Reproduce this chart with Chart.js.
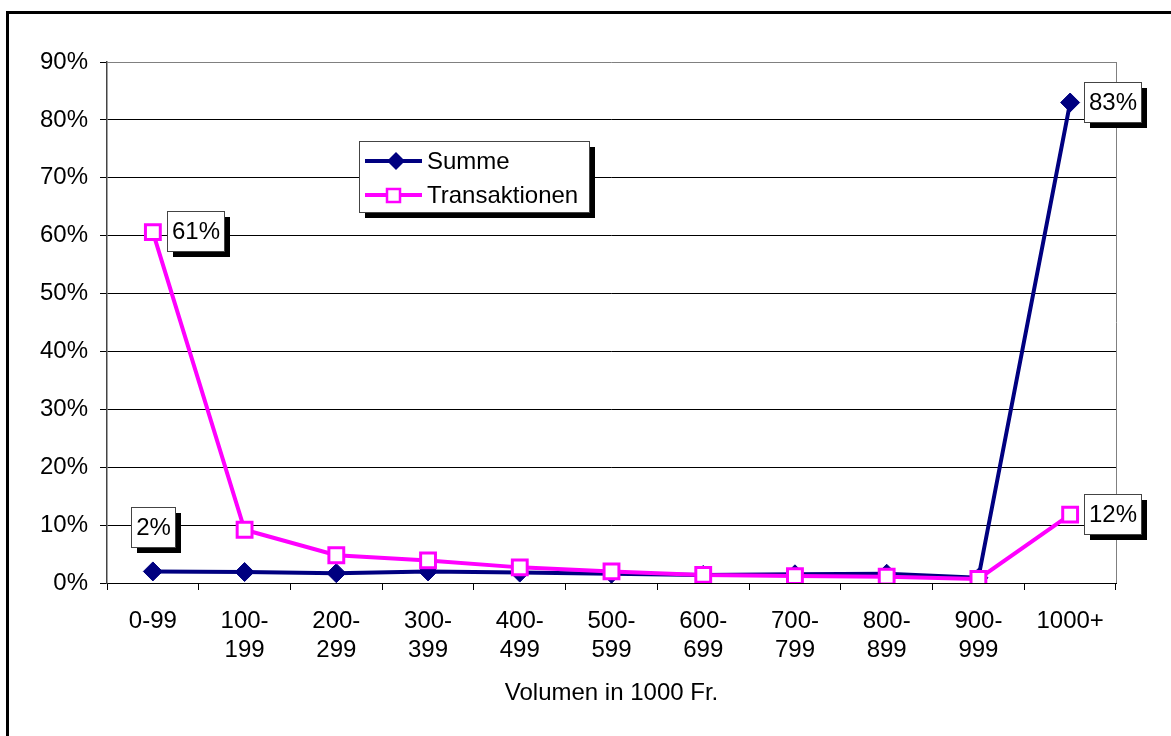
<!DOCTYPE html>
<html>
<head>
<meta charset="utf-8">
<script src="https://cdn.jsdelivr.net/npm/chart.js@4.4.0/dist/chart.umd.min.js"></script>
<style>
  html, body { margin: 0; padding: 0; background: #fff; overflow: hidden; }
  canvas { display: block; }
</style>
</head>
<body>
<canvas id="chart" width="1171" height="736"></canvas>
<script>
// Volumen-Klassen (in 1000 Fr.) und Anteile in %
const categories = [["0-99"], ["100-", "199"], ["200-", "299"], ["300-", "399"], ["400-", "499"],
  ["500-", "599"], ["600-", "699"], ["700-", "799"], ["800-", "899"], ["900-", "999"], ["1000+"]];
const summe = [2.0, 1.9, 1.7, 2.0, 1.8, 1.6, 1.4, 1.5, 1.6, 0.9, 83.0];
const transaktionen = [60.6, 9.2, 4.8, 3.9, 2.7, 2.0, 1.4, 1.2, 1.1, 0.7, 11.8];
const yMax = 90;
const yStep = 10;
const axisTitle = "Volumen in 1000 Fr.";
// which points get a value box: [dataset, index, side]
const valueLabels = [[1, 0, "right"], [0, 0, "above"], [0, 10, "right"], [1, 10, "right"]];

const FONT = "'Liberation Sans', Arial, sans-serif";
const NAVY = "#000080";
const PINK = "#FF00FF";

function diamond(ctx, x, y, r) {
  ctx.beginPath();
  ctx.moveTo(x, y - r); ctx.lineTo(x + r, y); ctx.lineTo(x, y + r); ctx.lineTo(x - r, y);
  ctx.closePath();
}

// box with a hard black shadow, like the old office charts
function shadowBox(ctx, x, y, w, h) {
  ctx.fillStyle = "#000";
  ctx.fillRect(x + 6, y + 6, w, h);
  ctx.fillStyle = "#fff";
  ctx.fillRect(x, y, w, h);
  ctx.strokeStyle = "#444";
  ctx.lineWidth = 1;
  ctx.strokeRect(x + 0.5, y + 0.5, w, h);
}

const framePlugin = {
  id: "frame",
  beforeDraw(chart) {
    const ctx = chart.ctx;
    ctx.save();
    ctx.fillStyle = "#fff";
    ctx.fillRect(0, 0, chart.width, chart.height);
    ctx.strokeStyle = "#000";
    ctx.lineWidth = 3;
    ctx.strokeRect(7.5, 12.5, 1400, 1000);
    ctx.restore();
  },
  beforeDatasetsDraw(chart) {
    const { ctx, chartArea: a } = chart;
    ctx.save();
    ctx.strokeStyle = "#808080";
    ctx.lineWidth = 1;
    ctx.beginPath();
    ctx.moveTo(a.right + 0.5, a.top);
    ctx.lineTo(a.right + 0.5, a.bottom);
    ctx.stroke();
    ctx.restore();
  }
};

const labelPlugin = {
  id: "valueBoxes",
  afterDatasetsDraw(chart) {
    const ctx = chart.ctx;
    ctx.save();
    ctx.font = "24px " + FONT;
    valueLabels.forEach(([ds, i, side]) => {
      const pt = chart.getDatasetMeta(ds).data[i];
      const txt = Math.round(chart.data.datasets[ds].data[i]) + "%";
      const w = Math.round(ctx.measureText(txt).width) + 9;
      const h = 40;
      let bx, by;
      if (side === "right") { bx = Math.round(pt.x + 14); by = Math.round(pt.y - h / 2 - 1); }
      else { bx = Math.round(pt.x - w / 2); by = Math.round(pt.y - 24 - h); }
      shadowBox(ctx, bx, by, w, h);
      ctx.fillStyle = "#000";
      ctx.textAlign = "center";
      ctx.textBaseline = "middle";
      ctx.fillText(txt, bx + w / 2 + 0.5, by + h / 2 + 1);
    });
    ctx.restore();
  },
  afterDraw(chart) {
    // legend box inside the plot
    const ctx = chart.ctx;
    const x = 359, y = 141, w = 230, h = 71;
    ctx.save();
    shadowBox(ctx, x, y, w, h);
    ctx.font = "24px " + FONT;
    ctx.textBaseline = "middle";
    ctx.textAlign = "left";
    chart.data.datasets.forEach((d, k) => {
      const ly = y + 20 + k * 34;
      ctx.strokeStyle = d.borderColor;
      ctx.lineWidth = 4;
      ctx.beginPath(); ctx.moveTo(x + 6, ly); ctx.lineTo(x + 63, ly); ctx.stroke();
      if (d.pointStyle === "rectRot") {
        diamond(ctx, x + 37, ly, 9);
        ctx.fillStyle = d.pointBackgroundColor; ctx.fill();
      } else {
        ctx.fillStyle = "#fff";
        ctx.fillRect(x + 28, ly - 6, 13, 13);
        ctx.strokeStyle = d.pointBorderColor; ctx.lineWidth = 2.5;
        ctx.strokeRect(x + 28, ly - 6, 13, 13);
      }
      ctx.fillStyle = "#000";
      ctx.fillText(d.label, x + 68, ly + 1);
    });
    ctx.restore();
  }
};

new Chart(document.getElementById("chart"), {
  type: "line",
  data: {
    labels: categories,
    datasets: [
      {
        label: "Summe", data: summe, order: 1,
        borderColor: NAVY, borderWidth: 4,
        pointStyle: "rectRot", pointRadius: 9.5,
        pointBackgroundColor: NAVY, pointBorderColor: NAVY, pointBorderWidth: 1,
        tension: 0, fill: false
      },
      {
        label: "Transaktionen", data: transaktionen, order: 0,
        borderColor: PINK, borderWidth: 4,
        pointStyle: "rect", pointRadius: 10.5,
        pointBackgroundColor: "#fff", pointBorderColor: PINK, pointBorderWidth: 3,
        tension: 0, fill: false
      }
    ]
  },
  options: {
    responsive: false,
    animation: false,
    events: [],
    layout: { padding: { top: 62, right: 55, left: 0, bottom: 0 } },
    plugins: { legend: { display: false }, tooltip: { enabled: false }, title: { display: false } },
    scales: {
      x: {
        offset: true,
        grid: { offset: true, drawOnChartArea: false, drawTicks: true, tickLength: 7, color: "#000", tickColor: "#000" },
        border: { color: "#000", width: 1 },
        ticks: { color: "#000", padding: 17, maxRotation: 0, autoSkip: false, font: { family: FONT, size: 24, lineHeight: 1.2 } },
        title: { display: true, text: axisTitle, color: "#000", font: { family: FONT, size: 24, lineHeight: 1.2 }, padding: { top: 0, bottom: 28 } },
        afterFit(scale) { scale.height = 153; }
      },
      y: {
        min: 0, max: yMax,
        grid: {
          color: c => (c.tick && c.tick.value === yMax ? "#808080" : "#000"),
          tickColor: "#000", tickLength: 7, lineWidth: 1
        },
        border: { color: "#444", width: 1.5 },
        ticks: { stepSize: yStep, color: "#000", padding: 12, callback: v => v + "%", font: { family: FONT, size: 24 } },
        afterFit(scale) { scale.width = 107; }
      }
    }
  },
  plugins: [framePlugin, labelPlugin]
});
</script>
</body>
</html>
